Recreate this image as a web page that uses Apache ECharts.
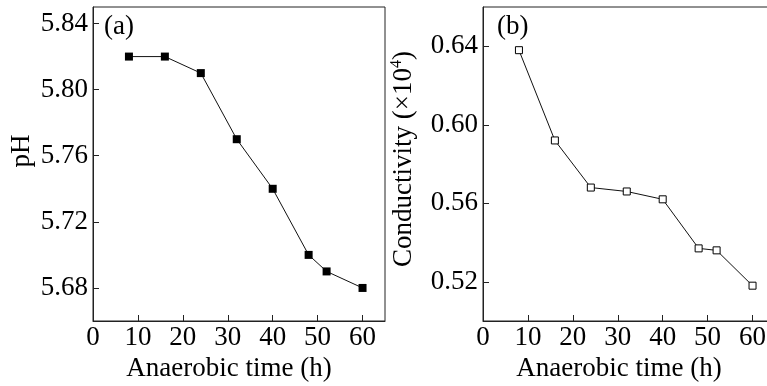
<!DOCTYPE html>
<html>
<head>
<meta charset="utf-8">
<script src="https://cdn.jsdelivr.net/npm/echarts@6/dist/echarts.min.js"></script>
<style>html,body{margin:0;padding:0;background:#fff;}#c{width:767px;height:386px;}</style>
</head>
<body>
<div id="c"></div>
<script>
const times = [8, 16, 24, 32, 40, 48, 52, 60];
const phValues = [5.82, 5.82, 5.81, 5.77, 5.74, 5.70, 5.69, 5.68];
const conductivityValues = [0.638, 0.592, 0.568, 0.566, 0.562, 0.537, 0.536, 0.518];
const xTicks = [0, 10, 20, 30, 40, 50, 60];
const phTicks = [5.68, 5.72, 5.76, 5.80, 5.84];
const condTicks = [0.52, 0.56, 0.60, 0.64];

const FONT = "'Liberation Serif', 'Times New Roman', serif";
const FS = 27;
const AX = '#222';

function xAxisCfg(gridIndex) {
  return {
    type: 'value', gridIndex, min: 0, max: 65,
    name: 'Anaerobic time (h)', nameLocation: 'middle', nameGap: 31,
    nameTextStyle: { fontFamily: FONT, fontSize: FS, color: '#000', padding: [0, 20, 0, 0] },
    axisLine: { show: true, lineStyle: { color: AX, width: 1 } },
    axisTick: { show: true, inside: true, length: 6, customValues: xTicks, lineStyle: { color: AX } },
    axisLabel: { customValues: xTicks, fontFamily: FONT, fontSize: FS, color: '#000', margin: 3,
      formatter: v => (v % 10 === 0 ? String(v) : '') },
    splitLine: { show: false }
  };
}
function yAxisCfg(gridIndex, min, max, ticks, name, gap, pad) {
  return {
    type: 'value', gridIndex, min, max,
    name, nameLocation: 'middle', nameGap: gap,
    nameTextStyle: { fontFamily: FONT, fontSize: FS, color: '#000', padding: pad,
      rich: { base: { fontFamily: FONT, fontSize: FS, color: '#000' },
              sup: { fontFamily: FONT, fontSize: 16, color: '#000', verticalAlign: 'top', lineHeight: 30 } } },
    axisLine: { show: true, lineStyle: { color: AX, width: 1 } },
    axisTick: { show: true, inside: true, length: 6, customValues: ticks, lineStyle: { color: AX } },
    axisLabel: { customValues: ticks, fontFamily: FONT, fontSize: FS, color: '#000', margin: 5,
      formatter: v => v.toFixed(2) },
    splitLine: { show: false }
  };
}

const chart = echarts.init(document.getElementById('c'), null, { renderer: 'canvas' });
chart.setOption({
  animation: false,
  backgroundColor: '#fff',
  textStyle: { fontFamily: FONT },
  grid: [
    { left: 93, top: 7, width: 292, height: 314, show: true, borderColor: AX, borderWidth: 1, backgroundColor: 'transparent', containLabel: false, outerBoundsMode: 'none' },
    { left: 483, top: 7, width: 292, height: 314, show: true, borderColor: AX, borderWidth: 1, backgroundColor: 'transparent', containLabel: false, outerBoundsMode: 'none' }
  ],
  xAxis: [xAxisCfg(0), xAxisCfg(1)],
  yAxis: [
    yAxisCfg(0, 5.66, 5.85, phTicks, 'pH', 58, [0, 0, 0, 26]),
    yAxisCfg(1, 0.50, 0.66, condTicks, '{base|Conductivity (×10}{sup|4}{base|)}', 64, [0, 0, 0, 10])
  ],
  graphic: [
    { type: 'text', left: 104, top: 13, style: { text: '(a)', font: FS + "px 'Liberation Serif', serif", fill: '#000' } },
    { type: 'text', left: 497, top: 13, style: { text: '(b)', font: FS + "px 'Liberation Serif', serif", fill: '#000' } }
  ],
  series: [
    {
      type: 'line', xAxisIndex: 0, yAxisIndex: 0,
      data: times.map((t, i) => [t, phValues[i]]),
      symbol: 'rect', symbolSize: 8,
      lineStyle: { color: '#111', width: 1 },
      itemStyle: { color: '#000', borderColor: '#000', borderWidth: 0 }
    },
    {
      type: 'line', xAxisIndex: 1, yAxisIndex: 1,
      data: times.map((t, i) => [t, conductivityValues[i]]),
      symbol: 'rect', symbolSize: 7,
      lineStyle: { color: '#111', width: 1 },
      itemStyle: { color: '#fff', borderColor: '#000', borderWidth: 1 }
    }
  ]
});
</script>
</body>
</html>
